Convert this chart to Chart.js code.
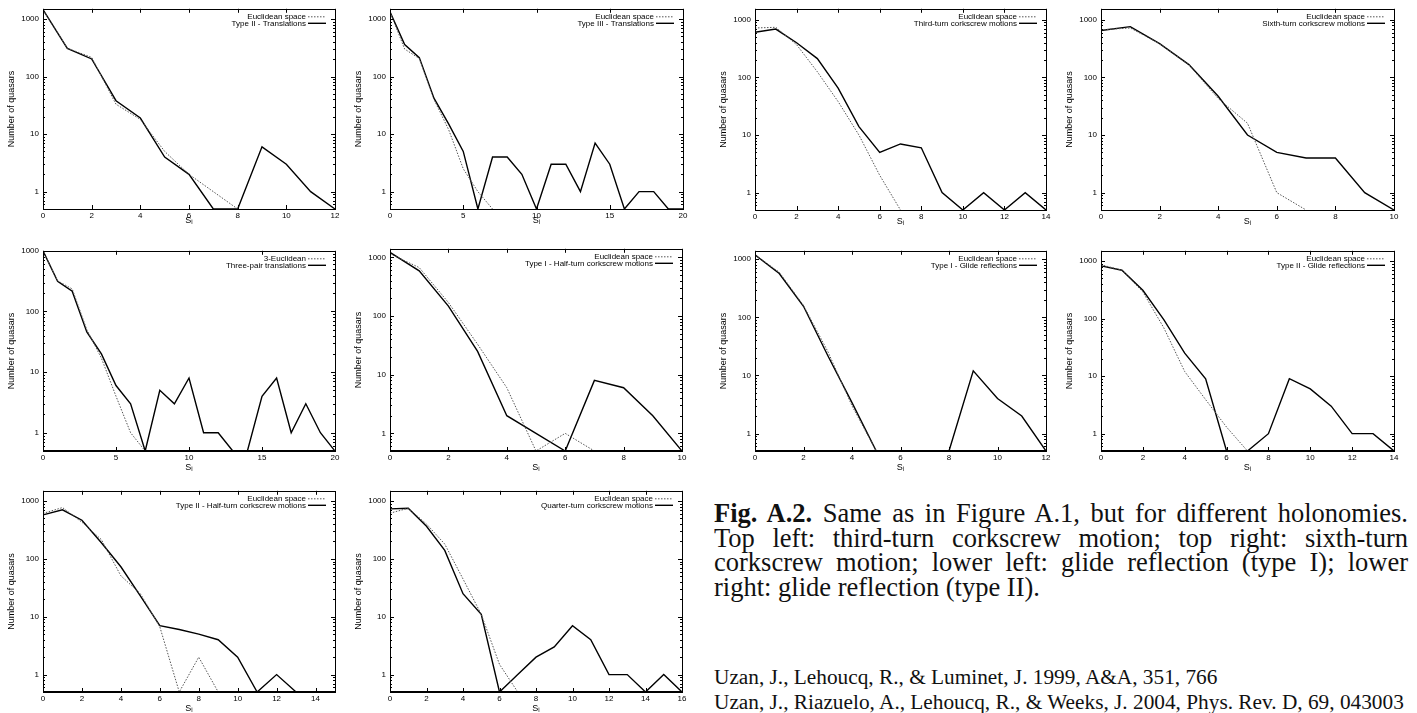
<!DOCTYPE html>
<html>
<head>
<meta charset="utf-8">
<title>Quasar counts per holonomy</title>
<script src="https://cdn.jsdelivr.net/npm/chart.js@4.4.1/dist/chart.umd.min.js"></script>
<style>
body {
	margin: 0;
	background: #fff;
	width: 1417px;
	height: 713px;
	position: relative;
	overflow: hidden;
}

canvas {
	position: absolute;
}

.caption {
	position: absolute;
	left: 714px;
	top: 501px;
	width: 694px;
	font-family: "Liberation Serif", "Times New Roman", serif;
	font-size: 26.5px;
	line-height: 24.5px;
	color: #111;
}

.caption span {
	display: block;
	white-space: nowrap;
	text-align: justify;
	text-align-last: justify;
}

.caption span.last {
	text-align-last: left;
}

.refs {
	position: absolute;
	left: 714px;
	top: 665px;
	font-family: "Liberation Serif", "Times New Roman", serif;
	font-size: 21.3px;
	line-height: 25px;
	color: #111;
	white-space: nowrap;
}
</style>
</head>

<body>

	<div class="caption">
		<span><b>Fig. A.2.</b> Same as in Figure A.1, but for different holonomies.</span>
		<span>Top left: third-turn corkscrew motion; top right: sixth-turn</span>
		<span>corkscrew motion; lower left: glide reflection (type I); lower</span>
		<span class="last">right: glide reflection (type II).</span>
	</div>

	<div class="refs">Uzan, J., Lehoucq, R., &amp; Luminet, J. 1999, A&amp;A, 351, 766<br>
		Uzan, J., Riazuelo, A., Lehoucq, R., &amp; Weeks, J. 2004, Phys. Rev. D, 69, 043003</div>

	<script>
		// y axis (log) ticks, shared by every panel
		var yTickValues = [1, 10, 100, 1000];
		var yTickLabels = ["1", "10", "100", "1000"];

		// panel 1 - type II translations
		var p1Ticks = [0, 2, 4, 6, 8, 10, 12];
		var p1Names = ["Euclidean space", "Type II - Translations"];
		var p1Eucl = [1450, 310, 215, 33, 18, 5, 2, 1, 0.5];
		var p1Holo = [1450, 308, 202, 38, 19, 4, 2, 0.5, 0.5, 6, 3, 1, 0.5];

		// panel 2 - type III translations
		var p2Ticks = [0, 5, 10, 15, 20];
		var p2Names = ["Euclidean space", "Type III - Translations"];
		var p2Eucl = [1330, 300, 205, 40, 12, 2.5, 1, 0.5];
		var p2Holo = [1330, 360, 213, 42, 15, 5, 0.5, 4, 4, 2, 0.5, 3, 3, 1, 7, 3, 0.5, 1, 1, 0.5, 0.5];

		// panel 3 - third-turn corkscrew
		var p3Ticks = [0, 2, 4, 6, 8, 10, 12, 14];
		var p3Names = ["Euclidean space", "Third-turn corkscrew motions"];
		var p3Eucl = [720, 740, 370, 125, 38, 10, 2, 0.5];
		var p3Holo = [607, 690, 400, 212, 65, 14, 5, 7, 6, 1, 0.5, 1, 0.5, 1, 0.5];

		// panel 4 - sixth-turn corkscrew
		var p4Ticks = [0, 2, 4, 6, 8, 10];
		var p4Names = ["Euclidean space", "Sixth-turn corkscrew motions"];
		var p4Eucl = [670, 720, 385, 165, 43, 16, 1, 0.5];
		var p4Holo = [650, 760, 385, 167, 47, 10, 5, 4, 4, 1, 0.5];

		// panel 5 - three-pair translations
		var p5Ticks = [0, 5, 10, 15, 20];
		var p5Names = ["3-Euclidean", "Three-pair translations"];
		var p5Eucl = [1000, 320, 235, 50, 17, 4, 1, 0.5];
		var p5Holo = [1000, 314, 215, 46, 20, 6, 3, 0.5, 5, 3, 8, 1, 1, 0.5, 0.5, 4, 8, 1, 3, 1, 0.5];

		// panel 6 - type I half-turn corkscrew
		var p6Ticks = [0, 2, 4, 6, 8, 10];
		var p6Names = ["Euclidean space", "Type I - Half-turn corkscrew motions"];
		var p6Eucl = [1150, 670, 170, 33, 6, 0.5, 1, 0.5];
		var p6Holo = [1220, 590, 148, 25, 2, 1, 0.5, 8, 6, 2, 0.5];

		// panel 7 - type I glide reflections
		var p7Ticks = [0, 2, 4, 6, 8, 10, 12];
		var p7Names = ["Euclidean space", "Type I - Glide reflections"];
		var p7Eucl = [1190, 600, 160, 26, 3, 0.5];
		var p7Holo = [1190, 570, 155, 22, 3.4, 0.5, 0.5, 0.5, 0.5, 12, 4, 2, 0.5];

		// panel 8 - type II glide reflections
		var p8Ticks = [0, 2, 4, 6, 8, 10, 12, 14];
		var p8Names = ["Euclidean space", "Type II - Glide reflections"];
		var p8Eucl = [860, 690, 290, 69, 12, 3.9, 1.3, 0.5];
		var p8Holo = [820, 690, 310, 96, 25, 9, 0.5, 0.5, 1, 9, 6, 3, 1, 1, 0.5];

		// panel 9 - type II half-turn corkscrew
		var p9Ticks = [0, 2, 4, 6, 8, 10, 12, 14];
		var p9Names = ["Euclidean space", "Type II - Half-turn corkscrew motions"];
		var p9Eucl = [610, 770, 430, 215, 51, 25, 6.7, 0.5, 2, 0.5];
		var p9Holo = [575, 705, 465, 190, 73, 23, 7, 6, 5, 4, 2, 0.5, 1, 0.5, 0.5, 0.5];

		// panel 10 - quarter-turn corkscrew
		var p10Ticks = [0, 2, 4, 6, 8, 10, 12, 14, 16];
		var p10Names = ["Euclidean space", "Quarter-turn corkscrew motions"];
		var p10Eucl = [615, 750, 400, 180, 45, 11, 1.5, 0.5];
		var p10Holo = [730, 750, 365, 140, 25, 11, 0.5, 1, 2, 3, 7, 4, 1, 1, 0.5, 1, 0.5];

		var sans = '"Liberation Sans Narrow", "Liberation Sans", Arial, sans-serif';

		// frame positions on the page (plot area edges)
		var panels = [
			{ l: 43, t: 6, r: 335, b: 209, row: 0, xMax: 12, yMax: 1500, ticks: p1Ticks, names: p1Names, eucl: p1Eucl, holo: p1Holo },
			{ l: 390, t: 6, r: 683, b: 209, row: 0, xMax: 20, yMax: 1500, ticks: p2Ticks, names: p2Names, eucl: p2Eucl, holo: p2Holo },
			{ l: 755, t: 6, r: 1046, b: 210, row: 0, xMax: 14, yMax: 1550, ticks: p3Ticks, names: p3Names, eucl: p3Eucl, holo: p3Holo },
			{ l: 1101, t: 6, r: 1394, b: 210, row: 0, xMax: 10, yMax: 1550, ticks: p4Ticks, names: p4Names, eucl: p4Eucl, holo: p4Holo },
			{ l: 43, t: 248, r: 335, b: 451, row: 1, xMax: 20, yMax: 1000, ticks: p5Ticks, names: p5Names, eucl: p5Eucl, holo: p5Holo },
			{ l: 390, t: 246, r: 682, b: 451, row: 1, xMax: 10, yMax: 1400, ticks: p6Ticks, names: p6Names, eucl: p6Eucl, holo: p6Holo },
			{ l: 755, t: 248, r: 1046, b: 451, row: 1, xMax: 12, yMax: 1400, ticks: p7Ticks, names: p7Names, eucl: p7Eucl, holo: p7Holo },
			{ l: 1101, t: 248, r: 1394, b: 451, row: 1, xMax: 14, yMax: 1500, ticks: p8Ticks, names: p8Names, eucl: p8Eucl, holo: p8Holo },
			{ l: 43, t: 488, r: 335, b: 692, row: 2, xMax: 15, yMax: 1500, ticks: p9Ticks, names: p9Names, eucl: p9Eucl, holo: p9Holo },
			{ l: 390, t: 488, r: 682, b: 692, row: 2, xMax: 16, yMax: 1500, ticks: p10Ticks, names: p10Names, eucl: p10Eucl, holo: p10Holo }
		];

		function line(ctx, x1, y1, x2, y2) {
			ctx.beginPath();
			ctx.moveTo(x1, y1);
			ctx.lineTo(x2, y2);
			ctx.stroke();
		}

		// gnuplot style frame: box, inward ticks on all sides, legend top right
		var framePlugin = {
			id: "frame",
			afterDraw: function(chart) {
				var ctx = chart.ctx, a = chart.chartArea;
				var x = chart.scales.x, y = chart.scales.y;
				var thick = chart.options.thickBottom;
				ctx.save();
				ctx.strokeStyle = "#000";
				ctx.lineWidth = 1;
				ctx.setLineDash([]);
				ctx.strokeRect(Math.round(a.left) + 0.5, Math.round(a.top) + 0.5,
						Math.round(a.right - a.left), Math.round(a.bottom - a.top));
				if (thick) {
					ctx.lineWidth = 2.2;
					line(ctx, a.left, a.bottom, a.right, a.bottom);
					ctx.lineWidth = 1;
				}
				x.ticks.forEach(function(t) {
					var px = Math.round(x.getPixelForValue(t.value)) + 0.5;
					line(ctx, px, a.bottom, px, a.bottom - 4);
					line(ctx, px, a.top, px, a.top + 4);
				});
				y.ticks.forEach(function(t) {
					var py = Math.round(y.getPixelForValue(t.value)) + 0.5;
					line(ctx, a.left, py, a.left + 4, py);
					line(ctx, a.right, py, a.right - 4, py);
				});
				[0.1, 1, 10, 100, 1000].forEach(function(d) {
					for (var k = 2; k <= 9; k++) {
						var v = k * d;
						if (v <= y.min || v >= y.max) continue;
						var py = Math.round(y.getPixelForValue(v)) + 0.5;
						line(ctx, a.left, py, a.left + 2, py);
						line(ctx, a.right, py, a.right - 2, py);
					}
				});

				ctx.font = "8px " + sans;
				ctx.fillStyle = "#000";
				ctx.textAlign = "right";
				ctx.textBaseline = "middle";
				chart.data.datasets.forEach(function(ds, i) {
					var yy = a.top + 8 + i * 6.5;
					ctx.fillText(ds.label, a.right - 29, yy);
					ctx.strokeStyle = ds.borderColor;
					ctx.lineWidth = ds.borderWidth;
					ctx.setLineDash(ds.borderDash || []);
					line(ctx, a.right - 27, yy, a.right - 9, yy);
				});
				ctx.restore();
			}
		};

		function toPoints(values) {
			return values.map(function(v, i) {
				return { x: i, y: v };
			});
		}

		function makeChart(p) {
			var cv = document.createElement("canvas");
			cv.width = p.r - p.l + 55;
			cv.height = p.b - p.t + 30;
			cv.style.left = (p.l - 43) + "px";
			cv.style.top = (p.t - 6) + "px";
			document.body.appendChild(cv);

			var tickFont = { family: sans, size: 8 };
			new Chart(cv, {
				type: "line",
				data: {
					datasets: [ {
						label: p.names[0],
						data: toPoints(p.eucl),
						borderColor: "#555",
						borderWidth: 1,
						borderDash: [1.5, 1.5],
						pointRadius: 0,
						tension: 0
					}, {
						label: p.names[1],
						data: toPoints(p.holo),
						borderColor: "#000",
						borderWidth: 1.4,
						pointRadius: 0,
						tension: 0
					} ]
				},
				options: {
					responsive: false,
					animation: false,
					devicePixelRatio: 1,
					thickBottom: p.row > 0,
					layout: { padding: { top: 6, right: 12, left: 0, bottom: 0 } },
					plugins: { legend: { display: false }, tooltip: { enabled: false } },
					scales: {
						x: {
							type: "linear",
							min: 0,
							max: p.xMax,
							grid: { display: false, drawTicks: false },
							border: { display: false },
							afterBuildTicks: function(s) {
								s.ticks = p.ticks.map(function(v) { return { value: v }; });
							},
							afterFit: function(s) { s.height = 24; },
							ticks: {
								font: tickFont,
								color: "#000",
								padding: 2,
								maxRotation: 0,
								autoSkip: false,
								callback: function(v, i) { return String(p.ticks[i]); }
							},
							title: {
								display: true,
								text: "S\u1d62",
								color: "#000",
								font: { family: sans, size: 9 },
								padding: { top: 0, bottom: p.row === 0 ? 6.6 : 1.6 }
							}
						},
						y: {
							type: "logarithmic",
							min: 0.5,
							max: p.yMax,
							grid: { display: false, drawTicks: false },
							border: { display: false },
							afterBuildTicks: function(s) {
								s.ticks = yTickValues.map(function(v) { return { value: v }; });
							},
							afterFit: function(s) { s.width = 43; },
							ticks: {
								font: tickFont,
								color: "#000",
								padding: 4,
								autoSkip: false,
								callback: function(v, i) { return yTickLabels[i]; }
							},
							title: {
								display: true,
								text: "Number of quasars",
								color: "#000",
								font: { family: sans, size: 9 },
								padding: { top: 6.6, bottom: 0 }
							}
						}
					}
				},
				plugins: [ framePlugin ]
			});
		}

		panels.forEach(makeChart);
	</script>

</body>
</html>
